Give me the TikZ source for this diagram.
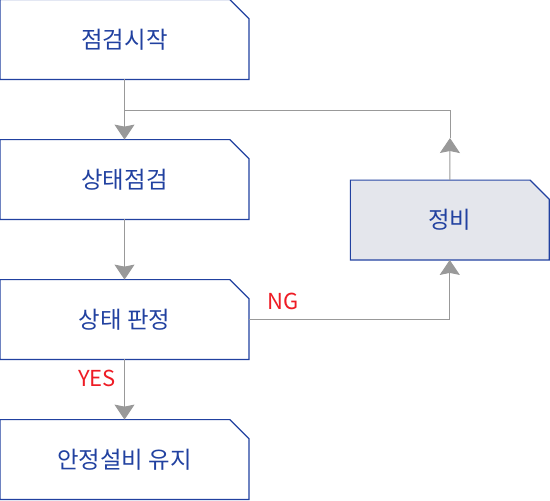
\documentclass[tikz,border=0pt]{standalone}
\usepackage{fontspec}
\newfontfamily\krfont{Noto Sans CJK KR}
\usetikzlibrary{arrows.meta}
\definecolor{boxblue}{HTML}{2141A0}
\definecolor{flowgray}{HTML}{999999}
\definecolor{fixfill}{HTML}{E4E6EC}
\definecolor{tagred}{HTML}{EE1C25}
\tikzset{
  box/.style={minimum width=124pt, minimum height=39.5pt, inner sep=0pt,
    text=boxblue, font=\krfont\fontsize{11.7}{14}\selectfont},
  boxline/.style={draw=boxblue, line width=0.6pt},
  flow/.style={draw=flowgray, line width=0.5pt, -{Stealth[width=10pt,length=7.5pt,inset=1pt]}},
  plain/.style={draw=flowgray, line width=0.5pt},
  tag/.style={text=tagred, font=\krfont\fontsize{11}{13}\selectfont}
}
\begin{document}
\begin{tikzpicture}[x=0.5pt,y=-0.5pt]
\useasboundingbox (0,0) rectangle (550,500);
% boxes
\fill[fixfill] (350.5,180.5) -- (530.5,180.5) -- (549,199) -- (549,259.5) -- (350.5,259.5) -- cycle;
\node[box] (start) at (124.5,39.5) {점검시작};
\node[box] (check) at (124.5,179.5) {상태점검};
\node[box] (judge) at (124.5,319.5) {상태 판정};
\node[box] (keep) at (124.5,459.5) {안정설비 유지};
\node[box,minimum width=99pt] (fix) at (449.75,220) {정비};
\foreach \n in {start,check,judge,keep,fix}
  \draw[boxline] (\n.south west) -- (\n.north west) -- ([xshift=-9.5pt]\n.north east)
    -- ([yshift=-9.5pt]\n.north east) -- (\n.south east) -- cycle;
% connectors
\coordinate (join) at (125,110);
\coordinate (tip) at (450,138);
\draw[flow] (start) -- (check);
\draw[flow] (check) -- (judge);
\draw[flow] (judge) -- (keep);
\draw[flow] (judge.east) -| (fix.south);
\draw[flow] (fix.north) -- (tip);
\draw[plain] (tip) |- (join);
\node[tag] (ng) at (283,301) {NG};
\node[tag] (yes) at (97,378) {YES};
\end{tikzpicture}
\end{document}
